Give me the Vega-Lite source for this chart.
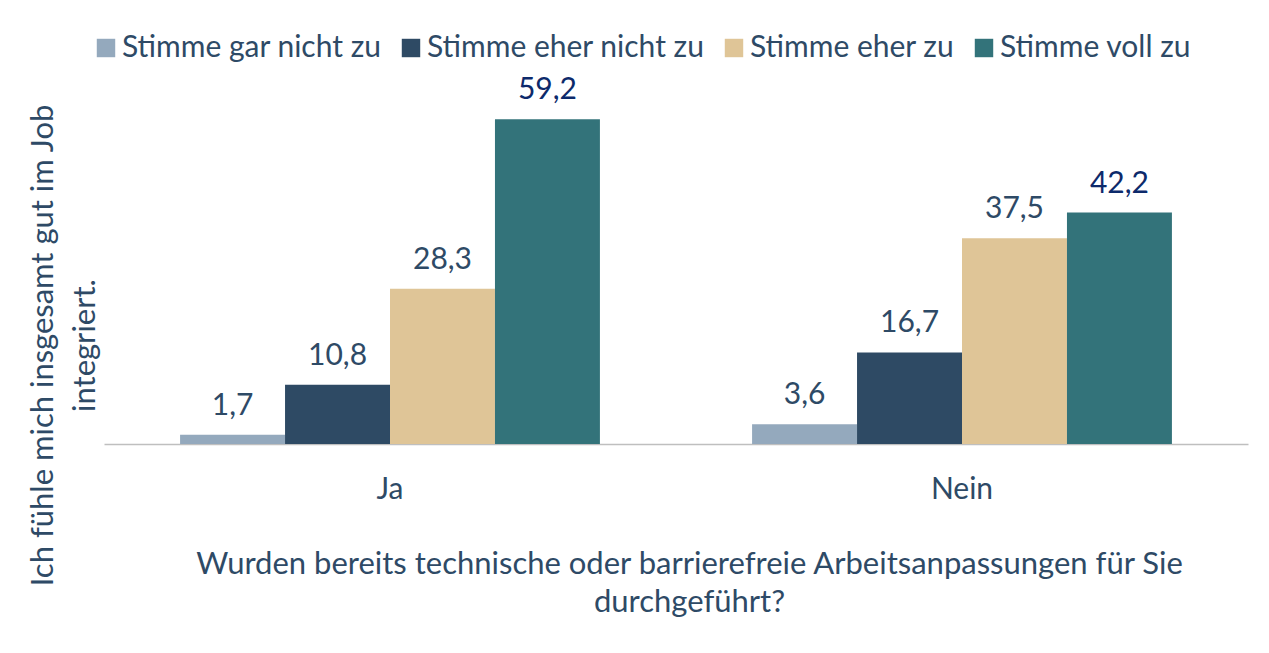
{
  "$schema": "https://vega.github.io/schema/vega-lite/v6.json",
  "width": 1144,
  "height": 384,
  "autosize": "none",
  "padding": {"left": 104, "top": 60, "right": 21, "bottom": 209},
  "background": "white",
  "config": {
    "locale": {"number": {"decimal": ",", "thousands": ".", "grouping": [3], "currency": ["", " €"]}},
    "view": {"stroke": null},
    "font": "Lato"
  },
  "data": {
    "values": [
      {"anpassung": "Ja", "antwort": "Stimme gar nicht zu", "wert": 1.7},
      {"anpassung": "Ja", "antwort": "Stimme eher nicht zu", "wert": 10.8},
      {"anpassung": "Ja", "antwort": "Stimme eher zu", "wert": 28.3},
      {"anpassung": "Ja", "antwort": "Stimme voll zu", "wert": 59.2},
      {"anpassung": "Nein", "antwort": "Stimme gar nicht zu", "wert": 3.6},
      {"anpassung": "Nein", "antwort": "Stimme eher nicht zu", "wert": 16.7},
      {"anpassung": "Nein", "antwort": "Stimme eher zu", "wert": 37.5},
      {"anpassung": "Nein", "antwort": "Stimme voll zu", "wert": 42.2}
    ]
  },
  "encoding": {
    "x": {
      "field": "anpassung",
      "type": "nominal",
      "sort": ["Ja", "Nein"],
      "scale": {"paddingInner": 0.266, "paddingOuter": 0.133},
      "axis": {
        "labelAngle": 0,
        "labelFont": "Lato",
        "labelFontSize": 30,
        "labelColor": "#2e4a66",
        "labelPadding": 30,
        "ticks": false,
        "domainColor": "#bfbfbf",
        "domainWidth": 1.5,
        "title": ["Wurden bereits technische oder barrierefreie Arbeitsanpassungen für Sie", "durchgeführt?"],
        "titleFont": "Lato",
        "titleFontSize": 31,
        "titleFontWeight": "normal",
        "titleColor": "#2e4a66",
        "titleX": 585,
        "titleY": 129,
        "titleAlign": "center",
        "titleBaseline": "alphabetic",
        "titleLineHeight": 38
      }
    },
    "xOffset": {
      "field": "antwort",
      "type": "nominal",
      "sort": ["Stimme gar nicht zu", "Stimme eher nicht zu", "Stimme eher zu", "Stimme voll zu"],
      "scale": {"paddingInner": 0, "paddingOuter": 0}
    },
    "y": {
      "field": "wert",
      "type": "quantitative",
      "scale": {"domain": [0, 70], "nice": false},
      "axis": {
        "labels": false,
        "ticks": false,
        "domain": false,
        "grid": false,
        "title": ["Ich fühle mich insgesamt gut im Job", "integriert."],
        "titleFont": "Lato",
        "titleFontSize": 31,
        "titleFontWeight": "normal",
        "titleColor": "#2e4a66",
        "titleAngle": -90,
        "titleAlign": "center",
        "titleBaseline": "alphabetic",
        "titleX": -52,
        "titleY": 285,
        "titleLineHeight": 42
      }
    }
  },
  "layer": [
    {
      "mark": {"type": "bar"},
      "encoding": {
        "color": {
          "field": "antwort",
          "type": "nominal",
          "sort": ["Stimme gar nicht zu", "Stimme eher nicht zu", "Stimme eher zu", "Stimme voll zu"],
          "scale": {
            "domain": ["Stimme gar nicht zu", "Stimme eher nicht zu", "Stimme eher zu", "Stimme voll zu"],
            "range": ["#94a9bd", "#2e4a64", "#dfc597", "#33737a"]
          },
          "legend": {
            "title": null,
            "orient": "none",
            "direction": "horizontal",
            "columns": 4,
            "legendX": -13,
            "legendY": -27,
            "symbolType": "square",
            "symbolSize": 340,
            "symbolStrokeWidth": 0,
            "labelFont": "Lato",
            "labelFontSize": 30,
            "labelColor": "#2e4a66",
            "labelOffset": 1,
            "labelLimit": 0,
            "columnPadding": 14
          }
        }
      }
    },
    {
      "mark": {"type": "text", "dy": -20, "baseline": "alphabetic", "align": "center", "font": "Lato", "fontSize": 30},
      "encoding": {
        "text": {"field": "wert", "type": "quantitative", "format": ".1f"},
        "color": {
          "condition": {"test": "datum.antwort === 'Stimme voll zu'", "value": "#0d2a6b"},
          "value": "#2e4a66"
        }
      }
    }
  ]
}
